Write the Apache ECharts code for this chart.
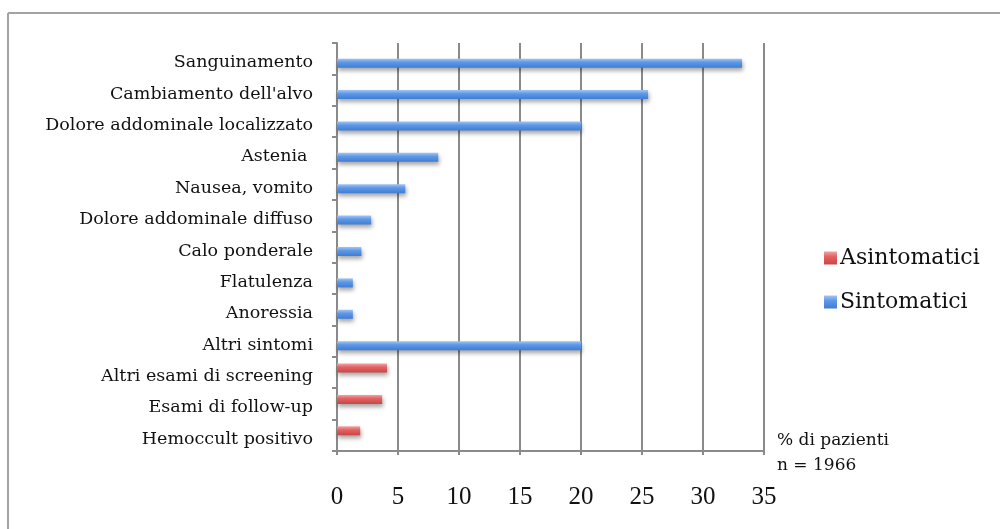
<!DOCTYPE html>
<html>
<head>
<meta charset="utf-8">
<title>Sintomi di presentazione</title>
<script src="https://cdn.jsdelivr.net/npm/echarts@6/dist/echarts.min.js"></script>
<style>
  html, body { margin: 0; padding: 0; background: #fff; }
  #chart { width: 1000px; height: 529px; }
</style>
</head>
<body>
<div id="chart"></div>
<script>
// Categories listed top to bottom
const categories = [
  'Sanguinamento',
  "Cambiamento dell'alvo",
  'Dolore addominale localizzato',
  'Astenia ',
  'Nausea, vomito',
  'Dolore addominale diffuso',
  'Calo ponderale',
  'Flatulenza',
  'Anoressia',
  'Altri sintomi',
  'Altri esami di screening',
  'Esami di follow-up',
  'Hemoccult positivo'
];

// % of patients per presenting reason
const asintomatici = [null, null, null, null, null, null, null, null, null, null, 4.1, 3.7, 1.9];
const sintomatici  = [33.2, 25.5, 20.0, 8.3, 5.6, 2.8, 2.0, 1.3, 1.3, 20.0, null, null, null];

const xTicks = { min: 0, max: 35, interval: 5 };
const noteLines = ['% di pazienti', 'n = 1966'];

const serif = '"DejaVu Serif", "Liberation Serif", serif';

function barFill(light, mid, dark) {
  return new echarts.graphic.LinearGradient(0, 0, 0, 1, [
    { offset: 0, color: light },
    { offset: 0.4, color: mid },
    { offset: 1, color: dark }
  ]);
}

const chart = echarts.init(document.getElementById('chart'), null, { renderer: 'canvas' });

chart.setOption({
  animation: false,
  backgroundColor: '#ffffff',
  grid: { left: 337, right: 236, top: 43, bottom: 78, containLabel: false },
  graphic: [
    { type: 'line', shape: { x1: 8, y1: 13, x2: 1000, y2: 13 }, style: { stroke: '#a3a3a3', lineWidth: 2 } },
    { type: 'line', shape: { x1: 8, y1: 13, x2: 8, y2: 529 }, style: { stroke: '#a3a3a3', lineWidth: 2 } },
    {
      type: 'text', left: 777, top: 428,
      style: { text: noteLines.join('\n'), font: '17px ' + serif, fill: '#111', lineHeight: 25 }
    }
  ],
  legend: {
    orient: 'vertical',
    left: 819,
    top: 242,
    itemWidth: 13,
    itemHeight: 13,
    itemGap: 22,
    icon: 'rect',
    textStyle: { fontFamily: serif, fontSize: 22, color: '#111', padding: [0, 0, 0, -2] },
    data: ['Asintomatici', 'Sintomatici']
  },
  xAxis: {
    type: 'value',
    min: xTicks.min,
    max: xTicks.max,
    interval: xTicks.interval,
    axisLine: { show: true, lineStyle: { color: '#8a8a8a', width: 2 } },
    axisTick: { show: true, length: 4, lineStyle: { color: '#8a8a8a', width: 2 } },
    splitLine: { show: true, lineStyle: { color: '#8a8a8a', width: 2 } },
    axisLabel: { fontFamily: '"Liberation Serif", serif', fontSize: 25, color: '#111', margin: 34 }
  },
  yAxis: {
    type: 'category',
    inverse: true,
    data: categories,
    axisLine: { show: true, lineStyle: { color: '#8a8a8a', width: 2 } },
    axisTick: { show: true, length: 5, lineStyle: { color: '#8a8a8a', width: 2 } },
    axisLabel: {
      fontFamily: serif, fontSize: 17.5, color: '#111', margin: 24,
      verticalAlign: 'top', lineHeight: 8
    }
  },
  series: [
    {
      name: 'Asintomatici',
      type: 'bar',
      data: asintomatici,
      barWidth: 9,
      barGap: '0%',
      itemStyle: {
        color: barFill('#f2a3a3', '#e26262', '#cc4545'),
        shadowColor: 'rgba(0,0,0,0.35)',
        shadowBlur: 4,
        shadowOffsetY: 3,
        shadowOffsetX: 1
      }
    },
    {
      name: 'Sintomatici',
      type: 'bar',
      data: sintomatici,
      barWidth: 9,
      barGap: '0%',
      itemStyle: {
        color: barFill('#a3c5f3', '#5e98e7', '#3f7dd4'),
        shadowColor: 'rgba(0,0,0,0.35)',
        shadowBlur: 4,
        shadowOffsetY: 3,
        shadowOffsetX: 1
      }
    }
  ]
});
</script>
</body>
</html>
